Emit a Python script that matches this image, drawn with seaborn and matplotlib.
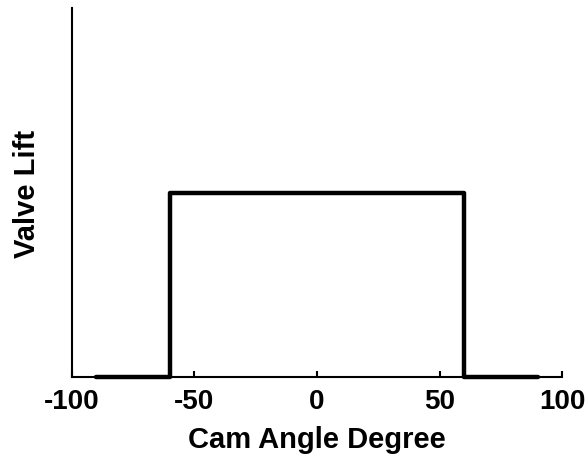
import matplotlib
matplotlib.use("Agg")
import matplotlib.pyplot as plt
import seaborn as sns
import pandas as pd

cam_angle = [-90, -60, -60, 60, 60, 90]
valve_lift = [0, 0, 1, 1, 0, 0]
x_ticks = [-100, -50, 0, 50, 100]

sns.set_theme(style="ticks")
plt.rcParams['font.family'] = ['Liberation Sans', 'DejaVu Sans']
plt.rcParams['text.color'] = 'black'
plt.rcParams['axes.labelcolor'] = 'black'
plt.rcParams['xtick.color'] = 'black'

fig = plt.figure(figsize=(5.88, 4.56), dpi=100)
ax = fig.add_axes([0.1224, 0.171, 0.8334, 0.809])

df = pd.DataFrame({"x": cam_angle, "y": valve_lift})
sns.lineplot(data=df, x="x", y="y", ax=ax, sort=False, estimator=None,
             color="black", linewidth=3.2, clip_on=False)

ax.set_xlim(-100, 100)
ax.set_ylim(0, 2.0)
ax.set_xticks(x_ticks)
ax.set_xticklabels([str(t) for t in x_ticks], fontsize=20, fontweight="bold", color="black")
ax.set_yticks([])
ax.tick_params(axis="x", direction="in", length=4, width=1.5, color="black", pad=8)
for s in ["top", "right"]:
    ax.spines[s].set_visible(False)
for s in ["left", "bottom"]:
    ax.spines[s].set_linewidth(1.5)
    ax.spines[s].set_color("black")
ax.set_xlabel("Cam Angle Degree", fontsize=21, fontweight="bold", labelpad=8, color="black")
ax.set_ylabel("Valve Lift", fontsize=21, fontweight="bold", labelpad=22, color="black")

fig.savefig("out.png", dpi=100)
